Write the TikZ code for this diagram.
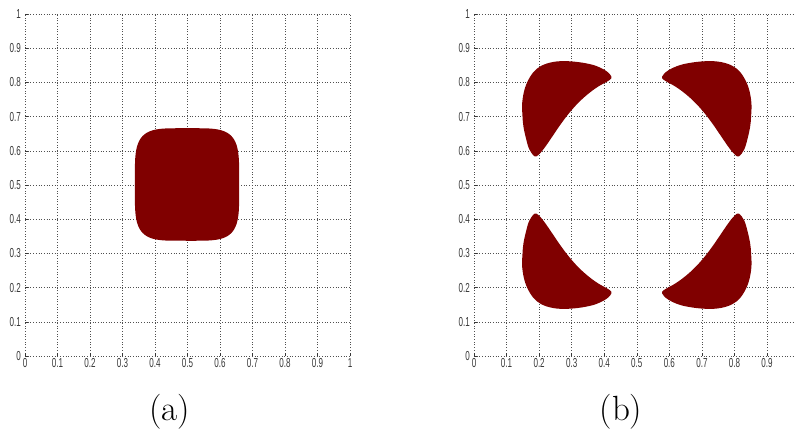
\documentclass[tikz,border=0pt]{standalone}
\usepackage{fontspec}
\setsansfont{Liberation Sans}
\definecolor{shapec}{RGB}{128,0,0}
\definecolor{gridc}{RGB}{80,80,80}
\definecolor{tickc}{RGB}{55,55,55}
\begin{document}
\begin{tikzpicture}[x=1pt,y=1pt,
  gridline/.style={gridc, line width=0.6pt, dash pattern=on 0.8pt off 1.9pt},
  tickmark/.style={tickc, line width=0.6pt},
  ticklab/.style={font=\sffamily\fontsize{13}{13}\selectfont, text=tickc, xscale=0.62, inner sep=0pt},
  caption/.style={font=\fontsize{35}{40}\selectfont, inner sep=0pt},
  blob/.style={fill=shapec, draw=none}]
\useasboundingbox (0,0) rectangle (795,-439);
% ---------- panel (a)
\begin{scope}[shift={(25,-356)}, x=325pt, y=342pt]
  \foreach \i in {0,...,10} {
    \draw[gridline] (\i/10,0) -- (\i/10,1);
    \draw[gridline] (0,\i/10) -- (1,\i/10);
    \draw[tickmark] (\i/10,0) -- ++(0,3pt);
    \draw[tickmark] (0,\i/10) -- ++(3pt,0);
  }
  \foreach \i/\t in {0/0,1/0.1,2/0.2,3/0.3,4/0.4,5/0.5,6/0.6,7/0.7,8/0.8,9/0.9,10/1} {
    \node[ticklab, anchor=north] (ax\i) at (\i/10,-2pt) {\t};
    \node[ticklab, anchor=east] (ay\i) at (-4pt,\i/10) {\t};
  }
  \fill[blob] plot[domain=1:358, samples=120]
    ({0.4985+0.1605*sign(cos(\x))*abs(cos(\x))^0.45},
     {0.5015+0.1645*sign(sin(\x))*abs(sin(\x))^0.45}) -- cycle;
\end{scope}
\node[caption] (capa) at (169.5,-412) {(a)};
% ---------- panel (b)
\begin{scope}
  \clip (440,0) rectangle (795,-439);
  \begin{scope}[shift={(474,-356)}, x=325.6pt, y=342pt]
    \foreach \i in {0,...,10} {
      \draw[gridline] (\i/10,0) -- (\i/10,1);
      \draw[gridline] (0,\i/10) -- (1,\i/10);
      \draw[tickmark] (\i/10,0) -- ++(0,3pt);
      \draw[tickmark] (0,\i/10) -- ++(3pt,0);
    }
    \foreach \i/\t in {0/0,1/0.1,2/0.2,3/0.3,4/0.4,5/0.5,6/0.6,7/0.7,8/0.8,9/0.9} {
      \node[ticklab, anchor=north] (bx\i) at (\i/10,-2pt) {\t};
    }
    \foreach \i/\t in {0/0,1/0.1,2/0.2,3/0.3,4/0.4,5/0.5,6/0.6,7/0.7,8/0.8,9/0.9,10/1} {
      \node[ticklab, anchor=east] (by\i) at (-4pt,\i/10) {\t};
    }
    \foreach \sx/\sy in {1/1,-1/1,1/-1,-1/-1} {
      \begin{scope}[shift={(0.5,0.5)}, xscale=\sx, yscale=\sy, shift={(-0.5,-0.5)}]
        \fill[blob] plot[smooth cycle, tension=0.6] coordinates {
          (0.186,0.584) (0.170,0.604) (0.160,0.635) (0.152,0.670) (0.149,0.700)
          (0.148,0.740) (0.156,0.782) (0.172,0.816) (0.193,0.840) (0.223,0.855)
          (0.264,0.862) (0.315,0.860) (0.366,0.851) (0.402,0.836) (0.418,0.823)
          (0.422,0.812) (0.408,0.802) (0.380,0.787) (0.350,0.766) (0.320,0.740)
          (0.292,0.710) (0.265,0.676) (0.240,0.641) (0.216,0.608) (0.198,0.588)};
      \end{scope}
    }
  \end{scope}
\end{scope}
\node[caption] (capb) at (621,-412) {(b)};
\end{tikzpicture}
\end{document}
